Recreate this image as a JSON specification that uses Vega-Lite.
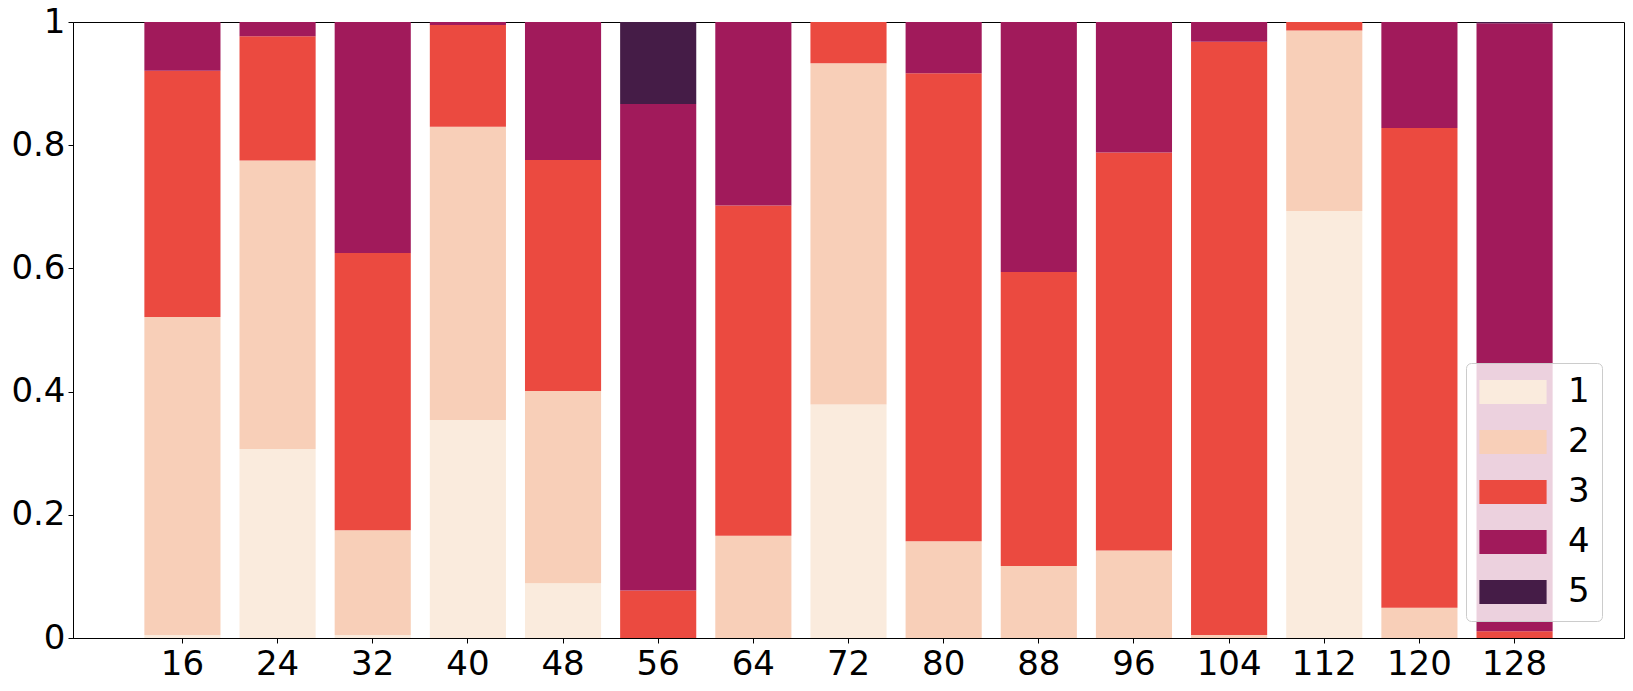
{
  "$schema": "https://vega.github.io/schema/vega-lite/v6.json",
  "autosize": {"type": "none"},
  "padding": {"left": 73, "top": 22, "right": 9, "bottom": 53},
  "width": 1551,
  "height": 616,
  "background": "white",
  "data": {
    "values": [
      {"size": 16, "class": "1", "frac": 0.005}, {"size": 16, "class": "2", "frac": 0.516}, {"size": 16, "class": "3", "frac": 0.400}, {"size": 16, "class": "4", "frac": 0.079}, {"size": 16, "class": "5", "frac": 0},
      {"size": 24, "class": "1", "frac": 0.307}, {"size": 24, "class": "2", "frac": 0.468}, {"size": 24, "class": "3", "frac": 0.202}, {"size": 24, "class": "4", "frac": 0.023}, {"size": 24, "class": "5", "frac": 0},
      {"size": 32, "class": "1", "frac": 0.005}, {"size": 32, "class": "2", "frac": 0.170}, {"size": 32, "class": "3", "frac": 0.450}, {"size": 32, "class": "4", "frac": 0.375}, {"size": 32, "class": "5", "frac": 0},
      {"size": 40, "class": "1", "frac": 0.354}, {"size": 40, "class": "2", "frac": 0.476}, {"size": 40, "class": "3", "frac": 0.165}, {"size": 40, "class": "4", "frac": 0.005}, {"size": 40, "class": "5", "frac": 0},
      {"size": 48, "class": "1", "frac": 0.089}, {"size": 48, "class": "2", "frac": 0.312}, {"size": 48, "class": "3", "frac": 0.375}, {"size": 48, "class": "4", "frac": 0.224}, {"size": 48, "class": "5", "frac": 0},
      {"size": 56, "class": "1", "frac": 0}, {"size": 56, "class": "2", "frac": 0}, {"size": 56, "class": "3", "frac": 0.077}, {"size": 56, "class": "4", "frac": 0.790}, {"size": 56, "class": "5", "frac": 0.133},
      {"size": 64, "class": "1", "frac": 0}, {"size": 64, "class": "2", "frac": 0.166}, {"size": 64, "class": "3", "frac": 0.536}, {"size": 64, "class": "4", "frac": 0.298}, {"size": 64, "class": "5", "frac": 0},
      {"size": 72, "class": "1", "frac": 0.379}, {"size": 72, "class": "2", "frac": 0.554}, {"size": 72, "class": "3", "frac": 0.067}, {"size": 72, "class": "4", "frac": 0}, {"size": 72, "class": "5", "frac": 0},
      {"size": 80, "class": "1", "frac": 0}, {"size": 80, "class": "2", "frac": 0.157}, {"size": 80, "class": "3", "frac": 0.760}, {"size": 80, "class": "4", "frac": 0.083}, {"size": 80, "class": "5", "frac": 0},
      {"size": 88, "class": "1", "frac": 0}, {"size": 88, "class": "2", "frac": 0.117}, {"size": 88, "class": "3", "frac": 0.477}, {"size": 88, "class": "4", "frac": 0.406}, {"size": 88, "class": "5", "frac": 0},
      {"size": 96, "class": "1", "frac": 0}, {"size": 96, "class": "2", "frac": 0.142}, {"size": 96, "class": "3", "frac": 0.646}, {"size": 96, "class": "4", "frac": 0.212}, {"size": 96, "class": "5", "frac": 0},
      {"size": 104, "class": "1", "frac": 0}, {"size": 104, "class": "2", "frac": 0.005}, {"size": 104, "class": "3", "frac": 0.963}, {"size": 104, "class": "4", "frac": 0.032}, {"size": 104, "class": "5", "frac": 0},
      {"size": 112, "class": "1", "frac": 0.693}, {"size": 112, "class": "2", "frac": 0.293}, {"size": 112, "class": "3", "frac": 0.014}, {"size": 112, "class": "4", "frac": 0}, {"size": 112, "class": "5", "frac": 0},
      {"size": 120, "class": "1", "frac": 0}, {"size": 120, "class": "2", "frac": 0.049}, {"size": 120, "class": "3", "frac": 0.779}, {"size": 120, "class": "4", "frac": 0.172}, {"size": 120, "class": "5", "frac": 0},
      {"size": 128, "class": "1", "frac": 0}, {"size": 128, "class": "2", "frac": 0}, {"size": 128, "class": "3", "frac": 0.011}, {"size": 128, "class": "4", "frac": 0.987}, {"size": 128, "class": "5", "frac": 0.002}
    ]
  },
  "mark": {"type": "bar"},
  "encoding": {
    "x": {
      "field": "size",
      "type": "ordinal",
      "sort": "ascending",
      "scale": {"paddingInner": 0.2, "paddingOuter": 0.75},
      "axis": {"title": null, "labelAngle": 0, "labelPadding": 4}
    },
    "y": {
      "field": "frac",
      "type": "quantitative",
      "stack": "zero",
      "scale": {"domain": [0, 1], "nice": false},
      "axis": {"title": null, "values": [0, 0.2, 0.4, 0.6, 0.8, 1], "format": ".1~f", "labelPadding": 3}
    },
    "order": {"field": "class", "sort": "ascending"},
    "color": {
      "field": "class",
      "type": "nominal",
      "scale": {
        "domain": ["1", "2", "3", "4", "5"],
        "range": ["#faebdd", "#f8cfb8", "#eb4a40", "#a11a5b", "#451c47"]
      },
      "legend": {
        "title": null,
        "orient": "none",
        "legendX": 1393,
        "legendY": 341,
        "padding": 12,
        "fillColor": "rgba(255,255,255,0.8)",
        "strokeColor": "#cccccc",
        "cornerRadius": 5,
        "symbolType": "M-2.8,-1H2.8V1H-2.8Z",
        "symbolSize": 576,
        "symbolStrokeWidth": 0,
        "symbolOpacity": 1,
        "symbolOffset": 18,
        "labelOffset": 38,
        "labelFontSize": 34,
        "labelFont": "DejaVu Sans",
        "labelColor": "black",
        "rowPadding": 16,
        "zindex": 1
      }
    }
  },
  "config": {
    "view": {"stroke": "black", "strokeWidth": 1},
    "axis": {
      "grid": false,
      "domainColor": "black",
      "tickColor": "black",
      "tickSize": 5,
      "labelFont": "DejaVu Sans",
      "labelFontSize": 34,
      "labelColor": "black"
    }
  }
}
